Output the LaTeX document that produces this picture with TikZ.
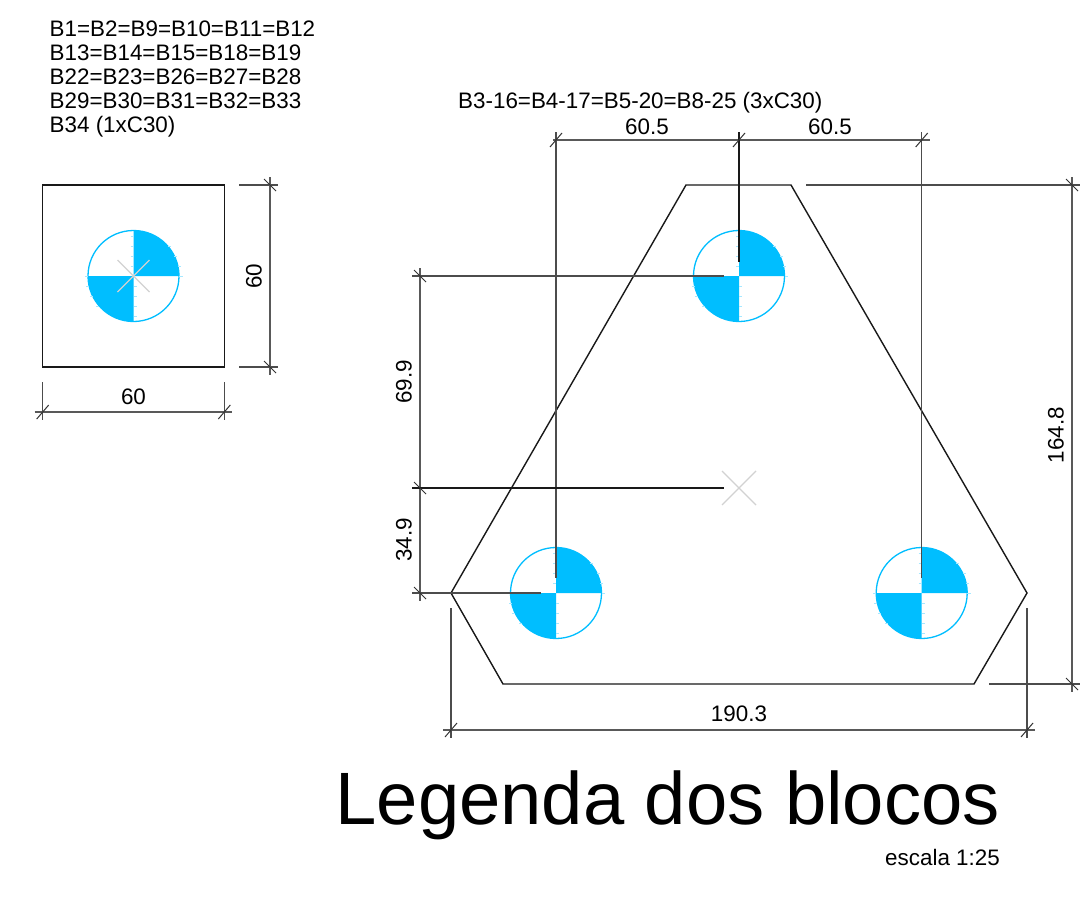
\documentclass[tikz,border=0pt]{standalone}
\usepackage{fontspec}
\setmainfont{Liberation Sans}
\definecolor{pilecyan}{RGB}{0,190,255}
\definecolor{crossgrey}{RGB}{210,210,210}
\tikzset{
  x=1pt,y=-1pt,
  outline/.style={draw=black!90,line width=1.4pt,line join=miter},
  dimline/.style={draw=black!65,line width=1.5pt},
  extline/.style={draw=black!70,line width=1.4pt},
  darkline/.style={draw=black!90,line width=1.5pt},
  tickmark/.style={draw=black!80,line width=1pt},
  label/.style={inner sep=0pt,font=\fontsize{22.4}{22.4}\selectfont},
  listlabel/.style={inner sep=0pt,anchor=base west,font=\fontsize{22.4}{22.4}\selectfont},
  pile/.pic={
    \fill[pilecyan] (0,0) -- (45.5,0) arc[start angle=0,end angle=-90,radius=45.5] -- cycle;
    \fill[pilecyan] (0,0) -- (-45.5,0) arc[start angle=180,end angle=90,radius=45.5] -- cycle;
    \draw[pilecyan,line width=1.3pt] (0,0) circle[radius=45.5];
    \foreach \h in {-40,-30,-20,-10} \draw[pilecyan!35,line width=1pt] (-3,\h) -- (0,\h);
    \foreach \h in {10,20,30,40} \draw[pilecyan!35,line width=1pt] (0,\h) -- (3,\h);
    \foreach \h in {-30,-20,-10} \draw[pilecyan!35,line width=1pt] ({sqrt(45.5*45.5-\h*\h)},\h) -- ++(3,0);
    \foreach \h in {10,20,30} \draw[pilecyan!35,line width=1pt] ({-sqrt(45.5*45.5-\h*\h)},\h) -- ++(-3,0);
    \draw[pilecyan!35,line width=1pt] (45.5,0) -- (49,0) (-45.5,0) -- (-49,0);
  },
}
\newcommand{\htick}[1]{\draw[tickmark] ([shift={(-6,7)}]#1) -- ([shift={(6,-7)}]#1);}
\newcommand{\vtick}[1]{\draw[tickmark] ([shift={(-6,-6)}]#1) -- ([shift={(6,6)}]#1);}
\newcommand{\grcross}[2]{\draw[crossgrey,line width=1.3pt] ([shift={(-#2,-#2)}]#1) -- ([shift={(#2,#2)}]#1) ([shift={(-#2,#2)}]#1) -- ([shift={(#2,-#2)}]#1);}
\begin{document}
\begin{tikzpicture}
\useasboundingbox (0,0) rectangle (1083,899);
\fill[white] (0,0) rectangle (1083,899);
% list texts
\node[listlabel] (t1) at (49.5,36.5) {B1=B2=B9=B10=B11=B12};
\node[listlabel] (t2) at (49.5,60.5) {B13=B14=B15=B18=B19};
\node[listlabel] (t3) at (49.5,84.5) {B22=B23=B26=B27=B28};
\node[listlabel] (t4) at (49.5,108.5) {B29=B30=B31=B32=B33};
\node[listlabel] (t5) at (49.5,132.5) {B34 (1xC30)};
\node[listlabel] (t6) at (458,108.5) {B3-16=B4-17=B5-20=B8-25 (3xC30)};
% single pile block
\coordinate (sqc) at (133.5,276);
\pic at (sqc) {pile};
\grcross{sqc}{16}
\draw[outline] (42.7,185) rectangle (224.3,367);
% right dim
\coordinate (r60a) at (270,185); \coordinate (r60b) at (270,367);
\coordinate (r60ea) at (239,185); \coordinate (r60eb) at (239,367);
\draw[extline] (r60ea) -- ([shift={(8,0)}]r60a);
\draw[extline] (r60eb) -- ([shift={(8,0)}]r60b);
\draw[dimline] ([shift={(0,-8)}]r60a) -- ([shift={(0,8)}]r60b);
\vtick{r60a}\vtick{r60b}
\node[label,rotate=90] (d60v) at (254,276) {60};
% bottom dim
\coordinate (b60a) at (42.7,412); \coordinate (b60b) at (224.3,412);
\coordinate (b60ea) at (42.7,382); \coordinate (b60eb) at (224.3,382);
\draw[extline] (b60ea) -- ([shift={(0,8)}]b60a);
\draw[extline] (b60eb) -- ([shift={(0,8)}]b60b);
\draw[dimline] ([shift={(-8,0)}]b60a) -- ([shift={(8,0)}]b60b);
\htick{b60a}\htick{b60b}
\node[label] (d60h) at (133.5,397) {60};
% three pile block
\coordinate (p1) at (739,276);
\coordinate (p2) at (556,593);
\coordinate (p3) at (921.7,593);
\pic at (p1) {pile};
\pic at (p2) {pile};
\pic at (p3) {pile};
\grcross{739,488}{17}
\draw[outline] (686,185) -- (791,185) -- (1027,593) -- (974,684) -- (503,684) -- (451,593) -- cycle;
% top dims
\coordinate (ta) at (556,140); \coordinate (tb) at (739,140); \coordinate (tc) at (921.7,140);
\draw[dimline] ([shift={(-3,0)}]ta) -- ([shift={(8,0)}]tc);
\draw[extline] ([shift={(0,-8)}]ta) -- (556,578);
\draw[darkline] ([shift={(0,-8)}]tb) -- (739,262);
\draw[extline] ([shift={(0,-8)}]tc) -- (921.7,578);
\htick{ta}\htick{tb}\htick{tc}
\node[label] (d605a) at (647,127) {60.5};
\node[label] (d605b) at (830,127) {60.5};
% left dims
\coordinate (la) at (420,276); \coordinate (lb) at (420,488); \coordinate (lc) at (420,593);
\draw[dimline] ([shift={(0,-8)}]la) -- ([shift={(0,8)}]lc);
\draw[extline] ([shift={(-8,0)}]la) -- (724,276);
\draw[darkline] ([shift={(-8,0)}]lb) -- (724,488);
\draw[extline] ([shift={(-8,0)}]lc) -- (541,593);
\vtick{la}\vtick{lb}\vtick{lc}
\node[label,rotate=90] (d699) at (404,382) {69.9};
\node[label,rotate=90] (d349) at (404,540) {34.9};
% bottom dim
\coordinate (ba) at (451,730); \coordinate (bb) at (1027,730);
\draw[dimline] ([shift={(-8,0)}]ba) -- ([shift={(8,0)}]bb);
\draw[extline] (451,608) -- ([shift={(0,8)}]ba);
\draw[extline] (1027,608) -- ([shift={(0,8)}]bb);
\htick{ba}\htick{bb}
\node[label] (d1903) at (739,714) {190.3};
% right dim
\coordinate (ra) at (1072,185); \coordinate (rb) at (1072,684);
\draw[dimline] ([shift={(0,-8)}]ra) -- ([shift={(0,8)}]rb);
\draw[extline] (806,185) -- ([shift={(8,0)}]ra);
\draw[extline] (989,684) -- ([shift={(8,0)}]rb);
\vtick{ra}\vtick{rb}
\node[label,rotate=90] (d1648) at (1056,435) {164.8};
% titles
\node[inner sep=0pt,anchor=base east,font=\fontsize{74.2}{74.2}\selectfont] (title) at (1000,824) {Legenda dos blocos};
\node[inner sep=0pt,anchor=base east,font=\fontsize{22.4}{22.4}\selectfont] (scale) at (1000,865) {escala 1:25};
\end{tikzpicture}
\end{document}
